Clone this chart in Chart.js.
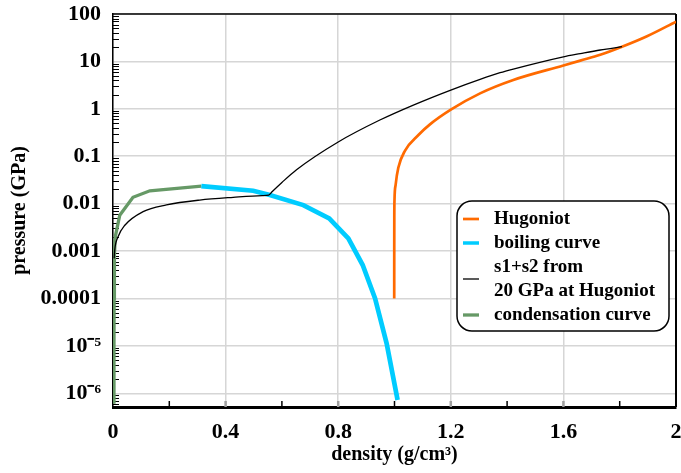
<!DOCTYPE html>
<html>
<head>
<meta charset="utf-8">
<script src="https://cdn.jsdelivr.net/npm/chart.js@4.4.1/dist/chart.umd.min.js"></script>
<style>
  html, body { margin: 0; padding: 0; background: #fff; }
  canvas { display: block; }
</style>
</head>
<body>
<canvas id="eos" width="681" height="473"></canvas>
<script>
const SERIF = "'Liberation Serif', 'Times New Roman', serif";

// axis ticks
const xTickValues = [0, 0.4, 0.8, 1.2, 1.6, 2];
const xTickLabels = ['0', '0.4', '0.8', '1.2', '1.6', '2'];
const xMinorTicks = [0.2, 0.6, 1.0, 1.4, 1.8];
const yTickValues = [1e-6, 1e-5, 1e-4, 1e-3, 0.01, 0.1, 1, 10, 100];
const yTickLabels = ['10⁻⁶', '10⁻⁵', '0.0001', '0.001', '0.01', '0.1', '1', '10', '100'];

// Hugoniot
const hugoniotDensity = [0.999, 0.9991, 0.9993, 1.0, 1.004, 1.0135, 1.037, 1.085, 1.126, 1.2, 1.304, 1.422, 1.6, 1.66, 1.731, 1.808, 1.897, 2.0];
const hugoniotPressure = [1e-4, 0.001, 0.005, 0.012, 0.025, 0.057, 0.13, 0.28, 0.47, 0.96, 2.12, 4.06, 8.2, 10.4, 13.8, 20.4, 34, 69];

// boiling curve
const boilingDensity = [0.314, 0.498, 0.557, 0.676, 0.768, 0.836, 0.887, 0.931, 0.972, 1.011];
const boilingPressure = [0.0235, 0.0187, 0.0152, 0.00933, 0.0049, 0.00185, 0.000507, 1e-4, 1.13e-5, 7.2e-7];

// s1+s2 from 20 GPa at Hugoniot
const isentropeDensity = [0.004, 0.006, 0.018, 0.042, 0.107, 0.19, 0.308, 0.427, 0.53, 0.553, 0.565, 0.60, 0.652, 0.8, 0.948, 1.067, 1.2, 1.304, 1.375, 1.422, 1.6, 1.66, 1.731, 1.808];
const isentropePressure = [0.0007, 0.00105, 0.002, 0.0035, 0.0068, 0.0094, 0.0119, 0.0136, 0.0148, 0.0151, 0.0178, 0.028, 0.052, 0.2, 0.58, 1.2, 2.49, 4.18, 5.78, 6.9, 12.5, 14.6, 17.4, 20.4];

// condensation curve
const condensDensity = [0.0035, 0.0035, 0.004, 0.005, 0.008, 0.024, 0.071, 0.131, 0.314];
const condensPressure = [6e-7, 1e-5, 1e-4, 0.0008, 0.002, 0.0057, 0.0136, 0.0187, 0.0235];

const legendLines = [['Hugoniot'], ['boiling curve'], ['s1+s2 from', '20 GPa at Hugoniot'], ['condensation curve']];

function pts(xs, ys) {
  return xs.map((x, i) => ({x: x, y: ys[i]}));
}

const framePlugin = {
  id: 'frame',
  beforeDatasetsDraw(chart) {
    const {ctx, chartArea: a, scales: {x, y}} = chart;
    ctx.save();
    ctx.strokeStyle = '#000';
    ctx.lineWidth = 1.5;
    ctx.beginPath(); ctx.moveTo(a.left, a.top); ctx.lineTo(a.right, a.top); ctx.stroke();
    ctx.lineWidth = 2;
    ctx.beginPath(); ctx.moveTo(a.right, a.top); ctx.lineTo(a.right, a.bottom); ctx.stroke();

    // minor log ticks, inward
    ctx.lineWidth = 1;
    for (let d = -7; d <= 2; d++) {
      for (let m = 2; m <= 9; m++) {
        const v = m * Math.pow(10, d);
        if (v < y.min || v > y.max) continue;
        const py = Math.round(y.getPixelForValue(v)) + 0.5;
        ctx.beginPath(); ctx.moveTo(a.left, py); ctx.lineTo(a.left + 6, py); ctx.stroke();
      }
    }
    ctx.lineWidth = 1.5;
    xMinorTicks.forEach(v => {
      const px = x.getPixelForValue(v);
      ctx.beginPath(); ctx.moveTo(px, a.bottom); ctx.lineTo(px, a.bottom - 6); ctx.stroke();
    });
    ctx.strokeStyle = '#a0a0a0';
    ctx.lineWidth = 2.5;
    xTickValues.slice(1, -1).forEach(v => {
      const px = x.getPixelForValue(v);
      ctx.beginPath(); ctx.moveTo(px, a.bottom); ctx.lineTo(px, a.bottom - 6); ctx.stroke();
    });
    ctx.restore();
  }
};

const legendBox = {
  id: 'legendBox',
  afterDraw(chart) {
    const {ctx, chartArea: a} = chart;
    const x0 = a.right - 219, y0 = 201, w = 212, h = 130, r = 15;
    ctx.save();
    ctx.beginPath();
    ctx.moveTo(x0 + r, y0);
    ctx.arcTo(x0 + w, y0, x0 + w, y0 + h, r);
    ctx.arcTo(x0 + w, y0 + h, x0, y0 + h, r);
    ctx.arcTo(x0, y0 + h, x0, y0, r);
    ctx.arcTo(x0, y0, x0 + w, y0, r);
    ctx.closePath();
    ctx.fillStyle = '#fff';
    ctx.fill();
    ctx.strokeStyle = '#000';
    ctx.lineWidth = 1.5;
    ctx.stroke();

    ctx.font = 'bold 19px ' + SERIF;
    ctx.textBaseline = 'middle';
    ctx.fillStyle = '#000';
    let ly = y0 + 18;
    chart.data.datasets.forEach((ds, i) => {
      const lines = legendLines[i];
      const mid = ly + (lines.length - 1) * 24 / 2;
      ctx.strokeStyle = ds.borderColor;
      ctx.lineWidth = Math.min(ds.borderWidth, 3.5);
      ctx.beginPath(); ctx.moveTo(x0 + 6, mid); ctx.lineTo(x0 + 22, mid); ctx.stroke();
      lines.forEach(t => {
        ctx.fillText(t, x0 + 37, ly);
        ly += 24;
      });
    });
    ctx.restore();
  }
};

new Chart(document.getElementById('eos'), {
  type: 'scatter',
  data: {
    datasets: [
      {label: 'Hugoniot', data: pts(hugoniotDensity, hugoniotPressure), borderColor: '#ff6a00', borderWidth: 2.7, cubicInterpolationMode: 'monotone', order: 1},
      {label: 'boiling curve', data: pts(boilingDensity, boilingPressure), borderColor: '#00ccff', borderWidth: 4.7, tension: 0, order: 2},
      {label: 's1+s2 from 20 GPa at Hugoniot', data: pts(isentropeDensity, isentropePressure), borderColor: '#000000', borderWidth: 1.3, cubicInterpolationMode: 'monotone', order: 0},
      {label: 'condensation curve', data: pts(condensDensity, condensPressure), borderColor: '#669966', borderWidth: 3.3, tension: 0, order: 3}
    ].map(ds => Object.assign(ds, {showLine: true, pointRadius: 0, fill: false, backgroundColor: ds.borderColor}))
  },
  options: {
    responsive: false,
    animation: false,
    layout: {padding: {top: 14, right: 5, left: 0, bottom: 0}},
    plugins: {legend: {display: false}, tooltip: {enabled: false}},
    scales: {
      x: {
        type: 'linear',
        min: 0,
        max: 2,
        afterBuildTicks: s => { s.ticks = xTickValues.map(v => ({value: v})); },
        afterFit: s => { s.height = 66; s.paddingLeft = 0; s.paddingRight = 0; },
        grid: {color: '#d6d6d6', lineWidth: 1.5, drawTicks: false},
        border: {color: '#000', width: 3},
        ticks: {
          padding: 12,
          color: '#000',
          maxRotation: 0,
          autoSkip: false,
          font: {family: SERIF, size: 22, weight: 'bold'},
          callback: (v, i) => xTickLabels[i]
        },
        title: {display: true, text: 'density (g/cm³)', color: '#000', padding: {top: 0, bottom: 6}, font: {family: SERIF, size: 20, weight: 'bold'}}
      },
      y: {
        type: 'logarithmic',
        min: 5.14e-7,
        max: 100,
        afterBuildTicks: s => { s.ticks = yTickValues.map(v => ({value: v})); },
        afterFit: s => { s.width = 113; s.paddingTop = 0; s.paddingBottom = 0; },
        grid: {color: '#d6d6d6', lineWidth: 1.5, drawTicks: false},
        border: {color: '#000', width: 1.5},
        ticks: {
          padding: 12,
          color: '#000',
          autoSkip: false,
          font: {family: SERIF, size: 22, weight: 'bold'},
          callback: (v, i) => yTickLabels[i]
        },
        title: {display: true, text: 'pressure (GPa)', color: '#000', padding: {top: 8, bottom: 0}, font: {family: SERIF, size: 20, weight: 'bold'}}
      }
    }
  },
  plugins: [framePlugin, legendBox]
});
</script>
</body>
</html>
